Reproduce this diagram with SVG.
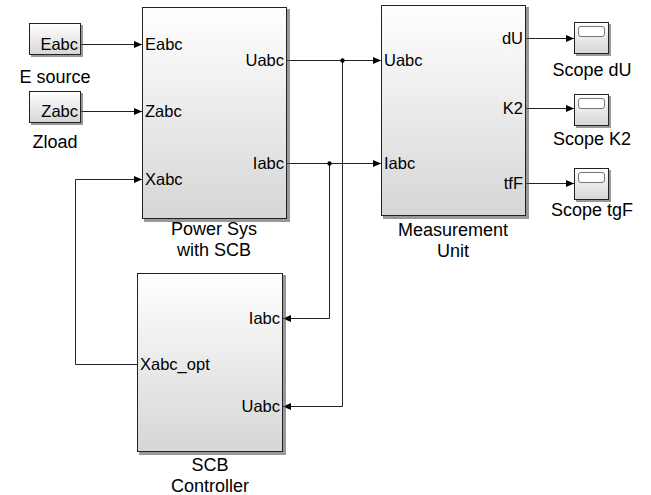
<svg xmlns="http://www.w3.org/2000/svg" width="651" height="495" viewBox="0 0 651 495">
<defs>
<linearGradient id="g" x1="0" y1="0" x2="0" y2="1">
<stop offset="0" stop-color="#ffffff"/>
<stop offset="1" stop-color="#d6d6d6"/>
</linearGradient>
<marker id="a" viewBox="0 0 8 8" refX="8" refY="4" markerWidth="8" markerHeight="8" markerUnits="userSpaceOnUse" orient="auto">
<path d="M0,0.5 L8,4 L0,7.5 z" fill="#000"/>
</marker>
<style>
.blk{fill:url(#g);stroke:#222;stroke-width:1}
.sh{fill:#555;opacity:0.6}
text{font-family:"Liberation Sans",Arial,sans-serif;fill:#000}
.p{font-size:16.5px}
.n{font-size:18px;text-anchor:middle}
.r{text-anchor:end}
.w{fill:none;stroke:#222;stroke-width:1}
.scr{fill:#fff;stroke:#777;stroke-width:1}
</style>
</defs>
<rect width="651" height="495" fill="#fff"/>

<g id="connectors">
<path class="w" d="M81,44.5 H142" marker-end="url(#a)"/>
<path class="w" d="M81,111.5 H142" marker-end="url(#a)"/>
<path class="w" d="M137,364.5 H75.5 V179.5 H142" marker-end="url(#a)"/>
<path class="w" d="M287,60.5 H381" marker-end="url(#a)"/>
<path class="w" d="M287,163.5 H381" marker-end="url(#a)"/>
<path class="w" d="M342.5,60.5 V406.5 H283" marker-end="url(#a)"/>
<path class="w" d="M329.5,163.5 V318.5 H283" marker-end="url(#a)"/>
<circle cx="342.5" cy="60.5" r="2.2" fill="#000"/>
<circle cx="329.5" cy="163.5" r="2.2" fill="#000"/>
<path class="w" d="M526,38.5 H574" marker-end="url(#a)"/>
<path class="w" d="M526,108.5 H574" marker-end="url(#a)"/>
<path class="w" d="M526,183.5 H574" marker-end="url(#a)"/>
</g>

<g id="esource">
<rect class="sh" x="31" y="25" width="52" height="32"/>
<rect class="blk" x="29.5" y="23.5" width="51" height="31"/>
<text class="p r" x="78" y="50">Eabc</text>
<text class="n" x="55" y="83">E source</text>
</g>

<g id="zload">
<rect class="sh" x="31" y="93" width="52" height="32"/>
<rect class="blk" x="29.5" y="91.5" width="51" height="31"/>
<text class="p r" x="78" y="117">Zabc</text>
<text class="n" x="55" y="148">Zload</text>
</g>

<g id="powersys">
<rect class="sh" x="144" y="9" width="146" height="213"/>
<rect class="blk" x="142.5" y="7.5" width="144" height="211"/>
<text class="p" x="145" y="50">Eabc</text>
<text class="p" x="145" y="117">Zabc</text>
<text class="p" x="145" y="185">Xabc</text>
<text class="p r" x="284" y="66">Uabc</text>
<text class="p r" x="284" y="169">Iabc</text>
<text class="n" x="214" y="235">Power Sys</text>
<text class="n" x="214" y="256">with SCB</text>
</g>

<g id="measurement">
<rect class="sh" x="383" y="7" width="146" height="212"/>
<rect class="blk" x="381.5" y="5.5" width="144" height="210"/>
<text class="p" x="384" y="66">Uabc</text>
<text class="p" x="384" y="169">Iabc</text>
<text class="p r" x="523" y="44">dU</text>
<text class="p r" x="523" y="114">K2</text>
<text class="p r" x="523" y="189">tfF</text>
<text class="n" x="453" y="236">Measurement</text>
<text class="n" x="453" y="257">Unit</text>
</g>

<g id="scbcontroller">
<rect class="sh" x="139" y="275" width="147" height="180"/>
<rect class="blk" x="137.5" y="273.5" width="145" height="178"/>
<text class="p r" x="280" y="324">Iabc</text>
<text class="p r" x="280" y="412">Uabc</text>
<text class="p" x="140" y="370">Xabc_opt</text>
<text class="n" x="210" y="471">SCB</text>
<text class="n" x="210" y="492">Controller</text>
</g>

<g id="scopedu">
<rect class="sh" x="576" y="24" width="35" height="32"/>
<rect class="blk" x="574.5" y="22.5" width="34" height="31"/>
<rect class="scr" x="578.5" y="26.5" width="26" height="10" rx="2.5"/>
<text class="n" x="592" y="76">Scope dU</text>
</g>

<g id="scopek2">
<rect class="sh" x="576" y="96" width="35" height="32"/>
<rect class="blk" x="574.5" y="94.5" width="34" height="31"/>
<rect class="scr" x="578.5" y="98.5" width="26" height="10" rx="2.5"/>
<text class="n" x="592" y="145">Scope K2</text>
</g>

<g id="scopetgf">
<rect class="sh" x="576" y="170" width="35" height="32"/>
<rect class="blk" x="574.5" y="168.5" width="34" height="31"/>
<rect class="scr" x="578.5" y="172.5" width="26" height="10" rx="2.5"/>
<text class="n" x="592" y="216">Scope tgF</text>
</g>
</svg>
